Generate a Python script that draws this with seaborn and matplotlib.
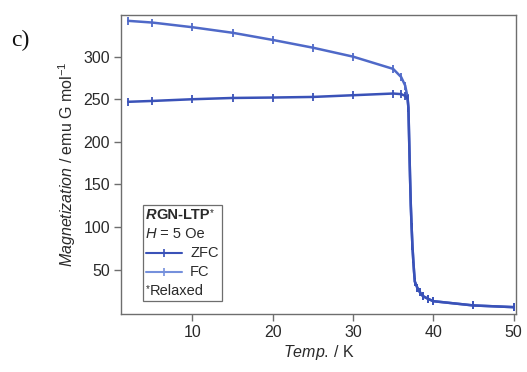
import numpy as np
import pandas as pd
import matplotlib
matplotlib.use("Agg")
import matplotlib.pyplot as plt
from matplotlib.lines import Line2D
from matplotlib.offsetbox import (AnchoredOffsetbox, DrawingArea, HPacker,
                                  TextArea, VPacker)
import seaborn as sns

# Temperature-dependent magnetization (emu G mol^-1), H = 5 Oe
temp_fc = [2, 5, 10, 15, 20, 25, 30, 35, 36.0, 36.5, 36.8, 36.9, 37.0, 37.1,
           37.2, 37.3, 37.4, 37.5, 37.6, 37.7, 38.0, 38.3, 38.7, 39.3, 40, 45, 50]
mag_fc = [342, 340, 334.5, 328, 319.6, 310.5, 300, 285.6, 276, 266, 252, 240,
          200, 160, 125, 100, 78, 62, 48, 36, 29, 24, 19, 16, 13, 8, 6]

temp_zfc = [2, 5, 10, 15, 20, 25, 30, 35, 36.0, 36.5, 36.8, 36.9, 37.0, 37.1,
            37.2, 37.3, 37.4, 37.5, 37.6, 37.7, 38.0, 38.3, 38.7, 39.3, 40, 45, 50]
mag_zfc = [247, 248, 250, 251.5, 252, 252.7, 254.7, 256.7, 256, 254, 250, 240,
           200, 160, 125, 100, 78, 62, 48, 36, 29, 24, 19, 16, 13, 8, 6]

x_ticks = [10, 20, 30, 40, 50]
y_ticks = [50, 100, 150, 200, 250, 300]

zfc_color = "#3a52b8"
fc_color = "#4f69c8"
fc_key_color = "#7590dc"
axis_gray = "#6e6e6e"
text_color = "#2a2a2a"

sns.set_theme(style="ticks")
plt.rcParams["font.family"] = ["Liberation Sans", "DejaVu Sans"]
plt.rcParams["mathtext.fontset"] = "custom"
plt.rcParams["mathtext.rm"] = "Liberation Sans"
plt.rcParams["mathtext.it"] = "Liberation Sans:italic"
plt.rcParams["mathtext.bf"] = "Liberation Sans:bold"

fig = plt.figure(figsize=(5.27, 3.72), dpi=100)
ax = fig.add_axes([0.2296, 0.156, 0.7495, 0.804])

df_fc = pd.DataFrame({"T": temp_fc, "M": mag_fc})
df_zfc = pd.DataFrame({"T": temp_zfc, "M": mag_zfc})

line_kw = dict(marker="|", markersize=6, markeredgewidth=1.3, linewidth=1.8,
               sort=False, estimator=None)
sns.lineplot(data=df_fc, x="T", y="M", ax=ax, color=fc_color,
             markeredgecolor=fc_color, **line_kw)
sns.lineplot(data=df_zfc, x="T", y="M", ax=ax, color=zfc_color,
             markeredgecolor=zfc_color, **line_kw)

ax.set_xlim(1.1, 50.3)
ax.set_ylim(-2, 349)
ax.set_xticks(x_ticks)
ax.set_yticks(y_ticks)
ax.tick_params(axis="both", direction="out", length=5, width=1,
               color=axis_gray, labelsize=11.5, labelcolor=text_color, pad=3)
for side in ax.spines.values():
    side.set_visible(True)
    side.set_color(axis_gray)
    side.set_linewidth(1)

ax.set_xlabel(r"$\it{Temp.}\,$/ K", fontsize=11.5, color=text_color, labelpad=2)
ax.set_ylabel(r"$\it{Magnetization}$ / emu G mol$^{-1}$", fontsize=11.5,
              color=text_color, labelpad=4)

# Panel letter
fig.text(0.022, 0.89, "c)", fontsize=17, family=["Liberation Serif"],
         color="#111111", va="center")

# Legend box with caption lines and line samples
fs = 10.5


def txt(s, **kw):
    props = dict(fontsize=fs, color=text_color)
    props.update(kw)
    return TextArea(s, textprops=props)


title_row = HPacker(children=[
    txt("R", fontweight="bold", fontstyle="italic"),
    txt("GN-LTP", fontweight="bold"),
    txt("*", fontsize=7),
], pad=0, sep=0, align="top")
field_row = HPacker(children=[
    txt("H", fontstyle="italic"),
    txt(" = 5 Oe"),
], pad=0, sep=0, align="baseline")


def sample(color):
    da = DrawingArea(26, 8, 0, 0)
    da.add_artist(Line2D([0, 13, 26], [4, 4, 4], color=color, linewidth=1.5,
                         marker="|", markersize=6, markeredgewidth=1.2,
                         markeredgecolor=color, markevery=[1]))
    return da


zfc_row = HPacker(children=[sample(zfc_color), txt("ZFC")], pad=0, sep=6,
                  align="center")
fc_row = HPacker(children=[sample(fc_key_color), txt("FC")], pad=0, sep=6,
                 align="center")
note_row = HPacker(children=[txt("*", fontsize=7), txt("Relaxed")], pad=0,
                   sep=0, align="top")

box = VPacker(children=[title_row, field_row, zfc_row, fc_row, note_row],
              pad=0, sep=3.5, align="left")
anchored = AnchoredOffsetbox(loc="lower left", child=box, pad=0.2,
                             borderpad=0, frameon=True,
                             bbox_to_anchor=(0.055, 0.044),
                             bbox_transform=ax.transAxes)
anchored.patch.set_edgecolor(axis_gray)
anchored.patch.set_linewidth(0.9)
anchored.patch.set_boxstyle("square", pad=0)
ax.add_artist(anchored)

fig.savefig("out.png", dpi=100)
